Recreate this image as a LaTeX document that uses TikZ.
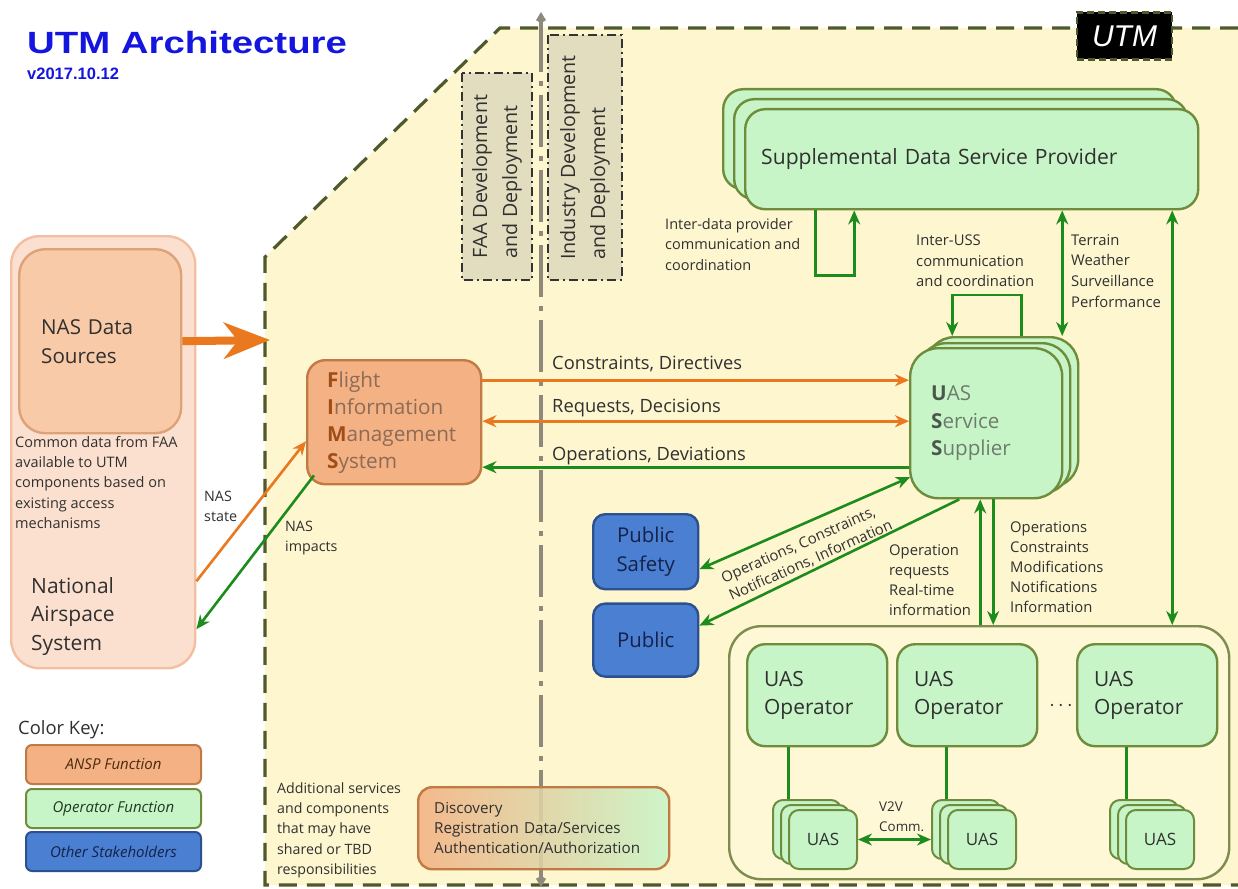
\documentclass[tikz,border=0pt]{standalone}
\usepackage{fontspec}
\setmainfont{Open Sans}
\newfontfamily\headfont{Liberation Sans}
\usetikzlibrary{positioning,arrows.meta}
\definecolor{utmbg}{HTML}{FDF6CF}
\definecolor{utmedge}{HTML}{4E5A2C}
\definecolor{nasfill}{HTML}{FCE0CF}
\definecolor{nasedge}{HTML}{F2BFA0}
\definecolor{nasdatafill}{HTML}{F9CAA8}
\definecolor{nasdataedge}{HTML}{DDA27A}
\definecolor{anspfill}{HTML}{F4B183}
\definecolor{anspedge}{HTML}{C27A45}
\definecolor{opfill}{HTML}{C8F5C8}
\definecolor{opedge}{HTML}{6E8C3C}
\definecolor{opframe}{HTML}{FEF8D6}
\definecolor{opframeedge}{HTML}{7E8C50}
\definecolor{stakefill}{HTML}{4A7FD1}
\definecolor{stakeedge}{HTML}{2D518F}
\definecolor{staketext}{HTML}{15224A}
\definecolor{floworange}{HTML}{E9781F}
\definecolor{flowgreen}{HTML}{1C8C1C}
\definecolor{divgray}{HTML}{8E897A}
\definecolor{tanfill}{HTML}{E3DDC0}
\definecolor{titleblue}{HTML}{1515E0}
\definecolor{bodytext}{HTML}{303030}
\definecolor{fimsbody}{HTML}{8C6C56}
\definecolor{fimsinit}{HTML}{A04E18}
\definecolor{ussbody}{HTML}{6E7C6E}
\definecolor{ussinit}{HTML}{4C564C}
\definecolor{keyansptext}{HTML}{4A2A10}
\definecolor{keyoptext}{HTML}{1E3A1E}
\newcommand{\fsz}[2]{\fontsize{#1}{#2}\selectfont}
\newcommand{\initial}[2]{{\bfseries\color{#1}#2}}
\tikzset{
    rbox/.style={rectangle, rounded corners=18pt, draw, line width=2.4pt, inner sep=0pt, anchor=north west},
    anspbox/.style={rbox, fill=anspfill, draw=anspedge},
    opbox/.style={rbox, fill=opfill, draw=opedge},
    sdspbox/.style={opbox, rounded corners=20pt, minimum width=453pt, minimum height=100pt},
    ussbox/.style={opbox, rounded corners=28pt, minimum width=152pt, minimum height=150pt},
    operatorbox/.style={opbox, minimum width=140pt, minimum height=102pt, text width=106pt, align=left, text=bodytext, font=\fsz{20.9}{28}},
    uasbox/.style={opbox, rounded corners=10pt, line width=2pt, minimum width=68pt, minimum height=59pt},
    stakebox/.style={rbox, rounded corners=12pt, fill=stakefill, draw=stakeedge, text=staketext, align=center, font=\fsz{20.4}{29}},
    devbox/.style={rectangle, fill=tanfill, draw=black!80, line width=1.8pt, dash pattern=on 9pt off 4pt on 2pt off 4pt, rotate=90, align=left, text=bodytext, font=\fsz{19.7}{30}},
    keybox/.style={rbox, rounded corners=6pt, line width=2pt, minimum width=175pt, minimum height=39pt, font=\fsz{15}{18}\itshape},
    notetext/.style={inner sep=0pt, anchor=north west, align=left, text=bodytext, font=\fsz{14.8}{20.4}},
    flowlabel/.style={notetext, font=\fsz{18.3}{22}},
    orangeflow/.style={->, line width=2.6pt, draw=floworange},
    greenflow/.style={->, line width=2.6pt, draw=flowgreen},
    oplink/.style={line width=2.6pt, draw=flowgreen},
    divline/.style={line width=4.5pt, draw=divgray, dash pattern=on 52pt off 9pt on 5pt off 9pt}
}
\begin{document}
\begin{tikzpicture}[x=1pt, y=-1pt, >={Stealth[length=14pt,width=12pt]}]
\useasboundingbox (0,0) rectangle (1238,888);
\fill[white] (0,0) rectangle (1238,888);

\fill[utmbg] (265,257) -- (500,28) -- (1238,28) -- (1238,885) -- (265,885) -- cycle;
\draw[utmedge, line width=3.2pt, dash pattern=on 18pt off 10pt] (1238,28) -- (500,28) -- (265,257) -- (265,885) -- (1238,885);

\node[anchor=base west, inner sep=0pt, text=titleblue, font=\headfont\bfseries\fsz{30.7}{34}] (title) at (27,54) {\scalebox{1.25}[1]{UTM Architecture}};
\node[anchor=base west, inner sep=0pt, text=titleblue, font=\headfont\bfseries\fsz{16.5}{18}] (version) at (27,80) {v2017.10.12};
\node[fill=black, draw=utmedge, line width=2.4pt, dash pattern=on 7pt off 4pt, minimum width=95pt, minimum height=47pt, inner sep=0pt, text=white, font=\headfont\itshape\fsz{30}{32}] (utmtag) at (1124.5,36) {UTM};

\node[devbox, minimum width=207pt, minimum height=70pt] (faadev) at (497,176.5) {FAA Development\\and Deployment};
\node[devbox, minimum width=245pt, minimum height=74pt] (inddev) at (585,157.5) {Industry Development\\and Deployment};

\coordinate (divtop) at (541,12);
\coordinate (divbot) at (541,887);
\draw[divline, {Kite[length=11pt,width=10pt]}-{Kite[length=11pt,width=10pt]}] (divtop) -- (divbot);

\node[rbox, rounded corners=28pt, fill=nasfill, draw=nasedge, minimum width=184pt, minimum height=432pt] (nasframe) at (10,235) {};
\node[rbox, rounded corners=26pt, fill=nasdatafill, draw=nasdataedge, minimum width=162pt, minimum height=184pt, text width=118pt, align=left, text=bodytext, font=\fsz{20.6}{29}] (nasdata) at (18,248) {NAS Data\\Sources};
\node[notetext, font=\fsz{14.5}{20.3}] (nasnote) at (15,436) {Common data from FAA\\available to UTM\\components based on\\existing access\\mechanisms};
\node[notetext, font=\fsz{21}{28.5}] (nas) at (31,577) {National\\Airspace\\System};

\coordinate (utmentry) at (270,340);
\draw[line width=8pt, draw=floworange, -{Stealth[length=46pt,width=36pt,inset=14pt]}] (nasdata.east) -- (utmentry);

\node[anspbox, minimum width=174pt, minimum height=124pt, text width=134pt, align=left, text=fimsbody, font=\fsz{20.7}{27}] (fims) at (306,359) {\initial{fimsinit}{F}light\\\initial{fimsinit}{I}nformation\\\initial{fimsinit}{M}anagement\\\initial{fimsinit}{S}ystem};

\node[sdspbox] (sdsp3) at (722,88) {};
\node[sdspbox] (sdsp2) at (733,98) {};
\node[sdspbox, text width=421pt, align=left, text=bodytext, font=\fsz{21.1}{26}] (sdsp) at (744,108) {Supplemental Data Service Provider};

\node[ussbox] (uss3) at (925,336) {};
\node[ussbox] (uss2) at (917,342) {};
\node[ussbox, text width=110pt, align=left, text=ussbody, font=\fsz{20.6}{27.5}] (uss) at (909,347) {\initial{ussinit}{U}AS\\\initial{ussinit}{S}ervice\\\initial{ussinit}{S}upplier};

\node[stakebox, minimum width=105pt, minimum height=75pt] (psafety) at (592,513) {Public\\Safety};
\node[stakebox, minimum width=105pt, minimum height=73pt, below=12pt of psafety] (public) {Public};

\node[rbox, rounded corners=32pt, fill=opframe, draw=opframeedge, minimum width=500pt, minimum height=253pt] (ops) at (728,625) {};
\node[operatorbox] (op1) at (746,643) {UAS\\Operator};
\node[operatorbox] (op2) at (896,643) {UAS\\Operator};
\node[operatorbox] (op3) at (1076,643) {UAS\\Operator};
\node[text=bodytext, font=\fsz{17}{20}] (opdots) at (1061,708) {· · ·};

\coordinate (link1) at ([xshift=-29pt]op1.south);
\coordinate (link2) at ([xshift=-21pt]op2.south);
\coordinate (link3) at ([xshift=-21pt]op3.south);
\node[uasbox] (uas1c) at (772,799) {};
\node[uasbox] (uas1b) at (780,804) {};
\node[uasbox, text=bodytext, font=\fsz{17}{20}] (uas1) at (788,809) {UAS};
\node[uasbox] (uas2c) at (931,799) {};
\node[uasbox] (uas2b) at (939,804) {};
\node[uasbox, text=bodytext, font=\fsz{17}{20}] (uas2) at (947,809) {UAS};
\node[uasbox] (uas3c) at (1109,799) {};
\node[uasbox] (uas3b) at (1117,804) {};
\node[uasbox, text=bodytext, font=\fsz{17}{20}] (uas3) at (1125,809) {UAS};
\draw[oplink] (link1) -- (link1 |- uas1c.north);
\draw[oplink] (link2) -- (link2 |- uas2c.north);
\draw[oplink] (link3) -- (link3 |- uas3c.north);
\draw[greenflow, <->] (uas1.east) -- (uas1.east -| uas2c.west);
\node[notetext, font=\fsz{13.4}{20}] (v2v) at (879,802) {V2V\\Comm.};

\node[notetext, font=\fsz{18.4}{22}] (keytitle) at (18,720) {Color Key:};
\node[keybox, fill=anspfill, draw=anspedge, text=keyansptext] (keyansp) at (25,744) {ANSP Function};
\node[keybox, fill=opfill, draw=opedge, text=keyoptext, below=3pt of keyansp] (keyop) {Operator Function};
\node[keybox, fill=stakefill, draw=stakeedge, text=staketext, below=2pt of keyop] (keyother) {Other Stakeholders};

\node[rbox, rounded corners=14pt, left color=anspfill, right color=opfill, draw=anspedge, fill opacity=0.88, text opacity=1, minimum width=251pt, minimum height=82pt, text width=219pt, align=left, text=bodytext, font=\fsz{15.2}{20}] (discovery) at (417,786) {Discovery\\Registration Data/Services\\Authentication/Authorization};
\node[notetext, font=\fsz{14.2}{20.4}] (addnote) at (277,782) {Additional services\\and components\\that may have\\shared or TBD\\responsibilities};

\node[notetext, font=\fsz{14.5}{20.5}] (idpnote) at (665,218) {Inter-data provider\\communication and\\coordination};
\node[notetext] (ussnote) at (916,235) {Inter-USS\\communication\\and coordination};
\node[notetext, font=\fsz{14.8}{20.7}] (wxnote) at (1071,234) {Terrain\\Weather\\Surveillance\\Performance};
\node[flowlabel] (cdlabel) at (552,356) {Constraints, Directives};
\node[flowlabel] (rdlabel) at (552,399) {Requests, Decisions};
\node[flowlabel] (odlabel) at (552,447) {Operations, Deviations};
\node[notetext, font=\fsz{14.3}{20}] (nasstate) at (204,491) {NAS\\state};
\node[notetext, font=\fsz{14.3}{20}] (nasimpact) at (285,521) {NAS\\impacts};
\node[notetext, font=\fsz{14.8}{20.3}] (reqnote) at (889,544) {Operation\\requests\\Real-time\\information};
\node[notetext, font=\fsz{14.8}{20.2}] (opsnote) at (1010,521) {Operations\\Constraints\\Modifications\\Notifications\\Information};
\node[notetext, anchor=center, rotate=24, font=\fsz{14.8}{19}] (pubnote) at (807,552) {Operations, Constraints,\\Notifications, Information};

\coordinate (cdy) at ([yshift=42pt]fims.east);
\coordinate (rdy) at ([yshift=1pt]fims.east);
\coordinate (ody) at ([yshift=-45pt]fims.east);
\draw[orangeflow] (cdy) -- (cdy -| uss.west);
\draw[orangeflow, <->] (rdy) -- (rdy -| uss.west);
\draw[greenflow] (ody -| uss.west) -- (ody);
\draw[orangeflow] ([yshift=-129pt]nasframe.east) -- ([yshift=-19pt]fims.west);
\draw[greenflow] ([xshift=8pt,yshift=10pt]fims.south west) -- ([yshift=-177pt]nasframe.east);

\draw[greenflow] ([xshift=-156.5pt]sdsp.south) -- ++(0,65) -| ([xshift=-117.5pt]sdsp.south);
\draw[greenflow] ([xshift=19pt]uss3.north) -- ++(0,-41) -| ([xshift=-50pt]uss3.north);
\coordinate (wxx) at ([xshift=90.5pt]sdsp.south);
\coordinate (uasx) at ([xshift=200.5pt]sdsp.south);
\draw[greenflow, <->] (wxx) -- (wxx |- uss3.north);
\draw[greenflow, <->] (uasx) -- (uasx |- ops.north);

\coordinate (upx) at ([xshift=-6pt]uss.south);
\coordinate (dnx) at ([xshift=7pt]uss.south);
\draw[greenflow] (upx |- ops.north) -- (upx);
\draw[greenflow] (dnx) -- (dnx |- ops.north);
\draw[greenflow, <->] ([xshift=1pt,yshift=-54pt]uss.west) -- ([yshift=-17.5pt]psafety.east);
\draw[greenflow] ([xshift=-27pt]uss.south) -- ([yshift=14.5pt]public.east);
\end{tikzpicture}
\end{document}
